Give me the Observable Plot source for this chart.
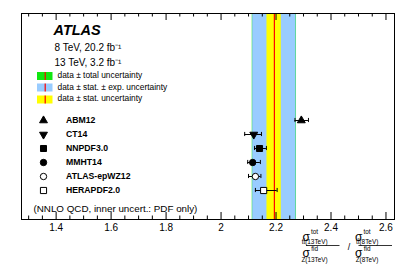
<!DOCTYPE html>
<html>
<head>
<meta charset="utf-8">
<script src="https://cdn.jsdelivr.net/npm/d3@7"></script>
<script src="https://cdn.jsdelivr.net/npm/@observablehq/plot@0.6"></script>
<style>
  html, body { margin: 0; padding: 0; background: #fff; }
  #chart { width: 415px; height: 265px; }
  svg { font-family: "Liberation Sans", Arial, sans-serif; }
</style>
</head>
<body>
<div id="chart"></div>
<script>
// ---- data ----
const pdfs = ["ABM12", "CT14", "NNPDF3.0", "MMHT14", "ATLAS-epWZ12", "HERAPDF2.0"];
const predCentral = [2.292, 2.119, 2.140, 2.115, 2.125, 2.155];
const predLow     = [2.269, 2.086, 2.122, 2.097, 2.100, 2.125];
const predHigh    = [2.318, 2.147, 2.165, 2.143, 2.145, 2.204];
const symbols     = ["triangle", "triangle", "square", "circle", "circle", "square"];
const rotations   = [0, 180, 0, 0, 0, 0];
const fills       = ["black", "black", "black", "black", "white", "white"];
const radii       = [3.3, 3.3, 4.4, 3.9, 3.9, 4.6];

const measCentral = 2.194;
const bandNames  = ["total", "stat+exp", "stat"];
const bandLow    = [2.1135, 2.115, 2.167];
const bandHigh   = [2.2745, 2.273, 2.219];
const bandColors = ["#11e611", "#99ccff", "#ffff00"];
const legendLabels = ["data ± total uncertainty", "data ± stat. ± exp. uncertainty", "data ± stat. uncertainty"];

const majorTicks = [1.4, 1.6, 1.8, 2.0, 2.2, 2.4, 2.6];
const minorTicks = d3.range(1.30, 2.631, 0.05).map(v => +v.toFixed(2)).filter(v => !majorTicks.some(m => Math.abs(m - v) < 1e-6));

// ---- tables ----
const preds = pdfs.map((name, i) => ({
  name, x: predCentral[i], lo: predLow[i], hi: predHigh[i],
  symbol: symbols[i], rotate: rotations[i], fill: fills[i], r: radii[i]
}));
const bands = bandNames.map((name, i) => ({name, lo: bandLow[i], hi: bandHigh[i], color: bandColors[i]}));

const W = 415, H = 265;
const mT = 13, mB = 46, mL = 21, mR = 21;
const frameH = H - mT - mB;
const rowStep = 14.86;

const chart = Plot.plot({
  width: W, height: H,
  marginTop: mT, marginBottom: mB, marginLeft: mL, marginRight: mR,
  style: {fontFamily: '"Liberation Sans", Arial, sans-serif', background: "white"},
  x: {domain: [1.274, 2.631], axis: null},
  y: {type: "band", domain: pdfs, padding: 0, range: [118 - rowStep / 2, 192.3 + rowStep / 2], axis: null},
  color: {type: "identity"},
  marks: [
    Plot.rect(bands, {x1: "lo", x2: "hi", fill: "color"}),
    Plot.ruleX([measCentral], {stroke: "#ff0000", strokeWidth: 1.2}),
    // ticks
    Plot.ruleX(majorTicks, {x: d => d, insetTop: frameH - 7, stroke: "black"}),
    Plot.ruleX(majorTicks, {x: d => d, insetBottom: frameH - 7, stroke: "black"}),
    Plot.ruleX(minorTicks, {x: d => d, insetTop: frameH - 3.5, stroke: "black"}),
    Plot.ruleX(minorTicks, {x: d => d, insetBottom: frameH - 3.5, stroke: "black"}),
    Plot.axisX({ticks: majorTicks, tickSize: 0, tickPadding: 4, fontSize: 10, label: null, tickFormat: d3.format("")}),
    Plot.frame({stroke: "black", strokeWidth: 1}),
    // error bars
    Plot.ruleY(preds, {y: "name", x1: "lo", x2: "hi", stroke: "black", strokeWidth: 1}),
    Plot.tickX(preds, {x: "lo", y: "name", insetTop: rowStep / 2 - 2.5, insetBottom: rowStep / 2 - 2.5, stroke: "black", strokeWidth: 1}),
    Plot.tickX(preds, {x: "hi", y: "name", insetTop: rowStep / 2 - 2.5, insetBottom: rowStep / 2 - 2.5, stroke: "black", strokeWidth: 1}),
    // prediction markers
    Plot.dot(preds, {x: "x", y: "name", symbol: d => d.symbol, rotate: "rotate", r: "r", fill: "fill", stroke: "black", strokeWidth: 1}),
    // legend markers + labels
    Plot.dot(preds, {y: "name", frameAnchor: "left", dx: 22, symbol: d => d.symbol, rotate: "rotate", r: "r", fill: "fill", stroke: "black", strokeWidth: 1}),
    Plot.text(preds, {y: "name", text: "name", frameAnchor: "left", dx: 44.5, textAnchor: "start", fontWeight: "bold", fontSize: 8.7, fill: "black"}),
    // header text
    Plot.text(["ATLAS"], {frameAnchor: "top-left", dx: 32, dy: 21.7, lineAnchor: "bottom", textAnchor: "start", fontSize: 14.5, fontWeight: "bold", fontStyle: "italic", fill: "black"}),
    Plot.text(["8 TeV, 20.2 fb⁻¹"], {frameAnchor: "top-left", dx: 33, dy: 37, lineAnchor: "bottom", textAnchor: "start", fontSize: 10, fill: "black"}),
    Plot.text(["13 TeV, 3.2 fb⁻¹"], {frameAnchor: "top-left", dx: 33, dy: 52, lineAnchor: "bottom", textAnchor: "start", fontSize: 10, fill: "black"}),
    Plot.text([legendLabels[0]], {frameAnchor: "top-left", dx: 36, dy: 64.6, lineAnchor: "bottom", textAnchor: "start", fontSize: 8.4, fill: "black"}),
    Plot.text([legendLabels[1]], {frameAnchor: "top-left", dx: 36, dy: 76, lineAnchor: "bottom", textAnchor: "start", fontSize: 8.4, fill: "black"}),
    Plot.text([legendLabels[2]], {frameAnchor: "top-left", dx: 36, dy: 87.6, lineAnchor: "bottom", textAnchor: "start", fontSize: 8.4, fill: "black"}),
    Plot.text(["(NNLO QCD, inner uncert.: PDF only)"], {frameAnchor: "bottom-left", dx: 12, dy: -8, lineAnchor: "bottom", textAnchor: "start", fontSize: 9.8, fill: "black"})
  ]
});
document.getElementById("chart").appendChild(chart);

// ---- legend swatches and the fraction axis title ----
const svg = d3.select(chart);
const sw = svg.append("g");
const swTop = [72, 83.5, 95.5];
bands.forEach((b, i) => {
  sw.append("rect").attr("x", 37).attr("y", swTop[i]).attr("width", 15.5).attr("height", 8).attr("fill", b.color);
  sw.append("rect").attr("x", 44.6).attr("y", swTop[i]).attr("width", 1.2).attr("height", 8).attr("fill", "#ff0000");
});

const t = svg.append("g").attr("fill", "black");
function txt(x, y, size, s) {
  t.append("text").attr("x", x).attr("y", y)
    .style("font-size", size + "px")
    .style("font-family", '"Liberation Sans", Arial, sans-serif')
    .text(s);
}
function frac(x0, x1, energy) {
  const sx = x0 + 0.3;
  txt(sx, 241, 12, "σ");
  txt(sx + 8.3, 233.5, 6.4, "tot");
  txt(sx + 8.3, 243.5, 6.4, "tt̄(" + energy + ")");
  t.append("line").attr("x1", x0).attr("x2", x1).attr("y1", 245.5).attr("y2", 245.5).attr("stroke", "black").attr("stroke-width", 0.8);
  txt(sx, 257, 12, "σ");
  txt(sx + 8.3, 251, 6.4, "fid");
  txt(sx + 8.3, 261.5, 6.4, "Z(" + energy + ")");
}
frac(306, 339.5, "13TeV");
txt(349, 250, 9, "/");
frac(358.5, 392, "8TeV");
</script>
</body>
</html>
